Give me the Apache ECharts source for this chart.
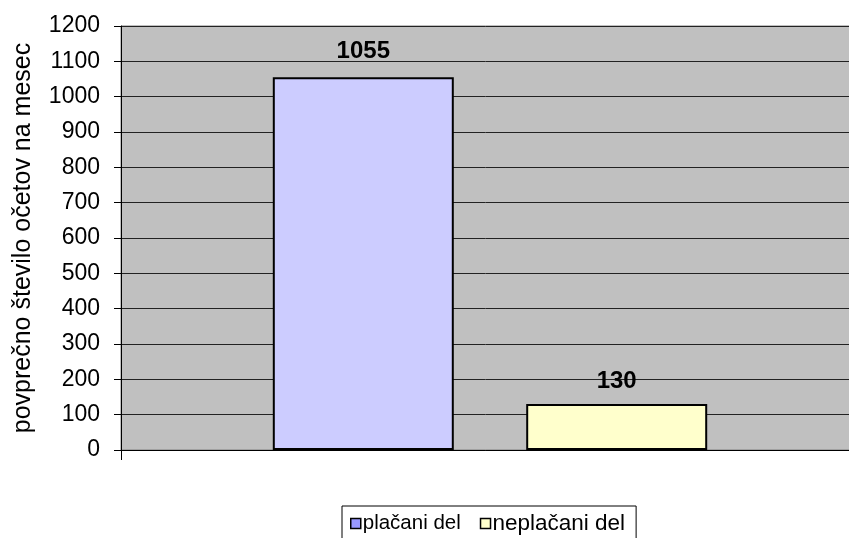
<!DOCTYPE html>
<html>
<head>
<meta charset="utf-8">
<script src="https://cdn.jsdelivr.net/npm/echarts@6/dist/echarts.min.js"></script>
<style>
html, body { margin: 0; padding: 0; background: #fff; }
#main { width: 849px; height: 538px; }
</style>
</head>
<body>
<div id="main"></div>
<script>
var categories = ['']
var seriesNames = ['plačani del', 'neplačani del']
var paidValues = [1055]
var unpaidValues = [130]
var yTicks = [0, 1200, 100]

var myChart = echarts.init(document.getElementById('main'))

var font = 'Liberation Sans, Arial, sans-serif'

function barLabel(dist) {
    return {
        show: true,
        position: 'top',
        distance: dist,
        fontFamily: font,
        fontSize: 24,
        fontWeight: 'bold',
        color: '#000',
        formatter: function (p) { return String(p.value) }
    }
}

var option = {
    animation: false,
    backgroundColor: '#fff',
    grid: {
        left: 121,
        width: 738,
        top: 26,
        bottom: 88,
        outerBoundsMode: 'none',
        show: true,
        backgroundColor: '#C0C0C0',
        borderColor: '#808080',
        borderWidth: 1
    },
    legend: {
        bottom: -5,
        left: 342,
        itemWidth: 10,
        itemHeight: 10,
        itemGap: 19,
        padding: [6, 11, 8, 8],
        borderColor: '#000',
        borderWidth: 1,
        backgroundColor: '#fff',
        textStyle: { fontFamily: font, fontSize: 20.5, color: '#000', padding: [0, 0, 0, -3] },
        data: [
            { name: seriesNames[0], icon: 'rect', itemStyle: { color: '#9999FF', borderColor: '#000', borderWidth: 1.5 } },
            { name: seriesNames[1], icon: 'rect', itemStyle: { color: '#FFFFCC', borderColor: '#000', borderWidth: 1.5 },
              textStyle: { fontSize: 22.5 } }
        ]
    },
    xAxis: {
        type: 'category',
        data: categories,
        axisLine: { lineStyle: { color: '#000', width: 1 } },
        axisTick: { show: true, length: 10, lineStyle: { color: '#000' } },
        axisLabel: { show: false },
        splitLine: { show: false }
    },
    yAxis: {
        type: 'value',
        min: yTicks[0],
        max: yTicks[1],
        interval: yTicks[2],
        name: 'povprečno število očetov na mesec',
        nameLocation: 'middle',
        nameRotate: 90,
        nameGap: 85,
        nameTextStyle: { fontFamily: font, fontSize: 25, color: '#000' },
        axisLine: { show: true, lineStyle: { color: '#000', width: 1 } },
        axisTick: { show: true, length: 7, lineStyle: { color: '#000' } },
        axisLabel: {
            fontFamily: font, fontSize: 23, color: '#000', margin: 21,
            formatter: function (v) { return String(v) }
        },
        splitLine: { show: true, lineStyle: { color: '#222', width: 1 } }
    },
    series: [
        {
            name: seriesNames[0],
            type: 'bar',
            data: paidValues,
            barWidth: 181,
            barGap: '40%',
            itemStyle: { color: '#CCCCFF', borderColor: '#000', borderWidth: 2 },
            label: barLabel(14)
        },
        {
            name: seriesNames[1],
            type: 'bar',
            data: unpaidValues,
            barWidth: 181,
            itemStyle: { color: '#FFFFCC', borderColor: '#000', borderWidth: 2 },
            label: barLabel(11)
        }
    ]
}
myChart.setOption(option)
</script>
</body>
</html>
